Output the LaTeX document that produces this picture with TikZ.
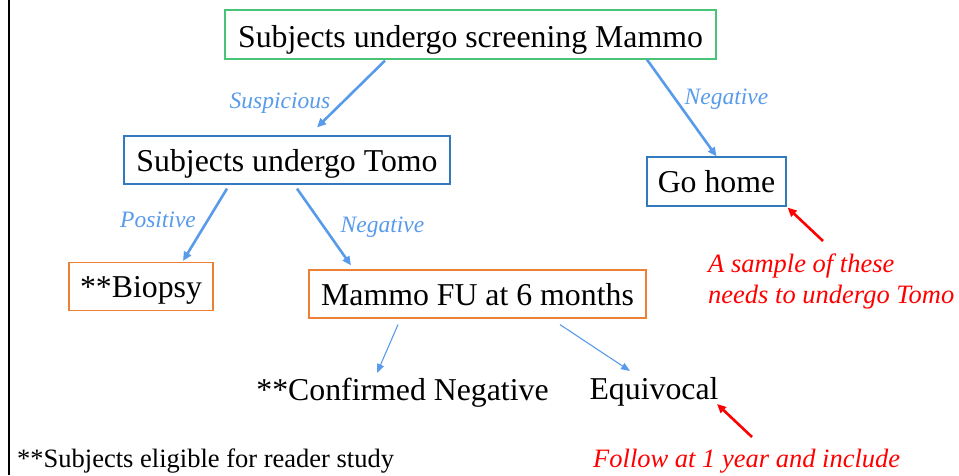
\documentclass[tikz,border=0pt]{standalone}
\usepackage{fontspec}
\setmainfont{Liberation Serif}
\usetikzlibrary{arrows.meta}

\definecolor{boxgreen}{RGB}{72,196,118}
\definecolor{boxblue}{RGB}{50,122,190}
\definecolor{boxorange}{RGB}{237,128,52}
\definecolor{flowblue}{RGB}{88,155,235}
\definecolor{notered}{RGB}{255,0,0}

\tikzset{
  stagebox/.style={draw, line width=1.2pt, inner sep=0pt,
    text height=23pt, text depth=0pt,
    font=\fontsize{31.8}{38}\selectfont},
  plaintext/.style={inner sep=0pt, anchor=base,
    font=\fontsize{31.8}{38}\selectfont},
  branchlabel/.style={text=flowblue, inner sep=0pt,
    font=\fontsize{23.5}{28}\selectfont\itshape},
  flow/.style={draw=flowblue, line width=2.6pt,
    -{Triangle[length=9pt,width=8pt]}},
  thinflow/.style={draw=flowblue, line width=1.1pt,
    -{Triangle[length=9pt,width=7pt]}},
  noteflow/.style={draw=notered, line width=2.6pt,
    -{Triangle[length=9pt,width=8pt]}},
  notetext/.style={text=notered, inner sep=0pt, align=left,
    font=\fontsize{26.5}{31}\selectfont\itshape},
}

\begin{document}
\begin{tikzpicture}[x=1pt,y=-1pt]
  \useasboundingbox (0,0) rectangle (959,475);

  % frame line on the left edge
  \draw[line width=2.6pt] (9,0) -- (9,475);

  % stages
  \node[stagebox, draw=boxgreen, minimum width=491pt, minimum height=49pt,
    text height=25pt]
    (screen) at (470.5,34.5) {Subjects undergo screening Mammo};
  \node[stagebox, draw=boxblue, minimum width=326pt, minimum height=48pt]
    (tomo) at (287,160) {Subjects undergo Tomo};
  \node[stagebox, draw=boxblue, minimum width=139pt, minimum height=49pt,
    text height=21pt]
    (home) at (716.5,181.5) {Go home};
  \node[stagebox, draw=boxorange, minimum width=144pt, minimum height=48pt,
    text height=21pt]
    (biopsy) at (141,286.5) {**Biopsy};
  \node[stagebox, draw=boxorange, minimum width=337pt, minimum height=48pt,
    text height=22pt]
    (fu) at (477.5,294) {Mammo FU at 6 months};

  % outcomes of the follow-up
  \node[plaintext] (confneg) at (402.5,400) {**Confirmed Negative};
  \node[plaintext] (equiv) at (654,399) {Equivocal};

  % branch labels
  \node[branchlabel] (lsusp) at (280,103) {Suspicious};
  \node[branchlabel] (lneg1) at (726.5,99) {Negative};
  \node[branchlabel] (lpos) at (158,220) {Positive};
  \node[branchlabel] (lneg2) at (382.5,227) {Negative};

  % connectors
  \draw[flow] ([xshift=-85.5pt,yshift=-1pt]screen.south)
    -- ([xshift=30pt,yshift=8pt]tomo.north);
  \draw[flow] ([xshift=176.5pt]screen.south) -- (home.north);
  \draw[flow] ([xshift=-60pt,yshift=-4pt]tomo.south)
    -- ([xshift=42pt,yshift=1pt]biopsy.north);
  \draw[flow] ([xshift=10pt,yshift=-4pt]tomo.south)
    -- ([xshift=-126.5pt,yshift=4pt]fu.north);
  \draw[thinflow] ([xshift=-79.5pt,yshift=-6pt]fu.south)
    -- ([xshift=-25.5pt,yshift=27pt]confneg.base);
  \draw[thinflow] ([xshift=82.5pt,yshift=-6pt]fu.south)
    -- ([xshift=-24pt,yshift=28pt]equiv.base);

  % notes (base anchor of a two-line node is the last line's baseline)
  \node[notetext, anchor=base west] (note1) at (708,303)
    {A sample of these\\needs to undergo Tomo};
  \node[notetext, anchor=base west] (note2) at (593,467)
    {Follow at 1 year and include};
  \coordinate (note1tip) at (823,241);
  \coordinate (note2tip) at (752,437);
  \draw[noteflow] (note1tip) -- ([xshift=1pt,yshift=-1pt]home.south east);
  \draw[noteflow] (note2tip) -- ([xshift=63pt,yshift=-5pt]equiv.base);

  % footnote
  \node[inner sep=0pt, anchor=base west, font=\fontsize{26.5}{31}\selectfont]
    (foot) at (17,467) {**Subjects eligible for reader study};
\end{tikzpicture}
\end{document}
